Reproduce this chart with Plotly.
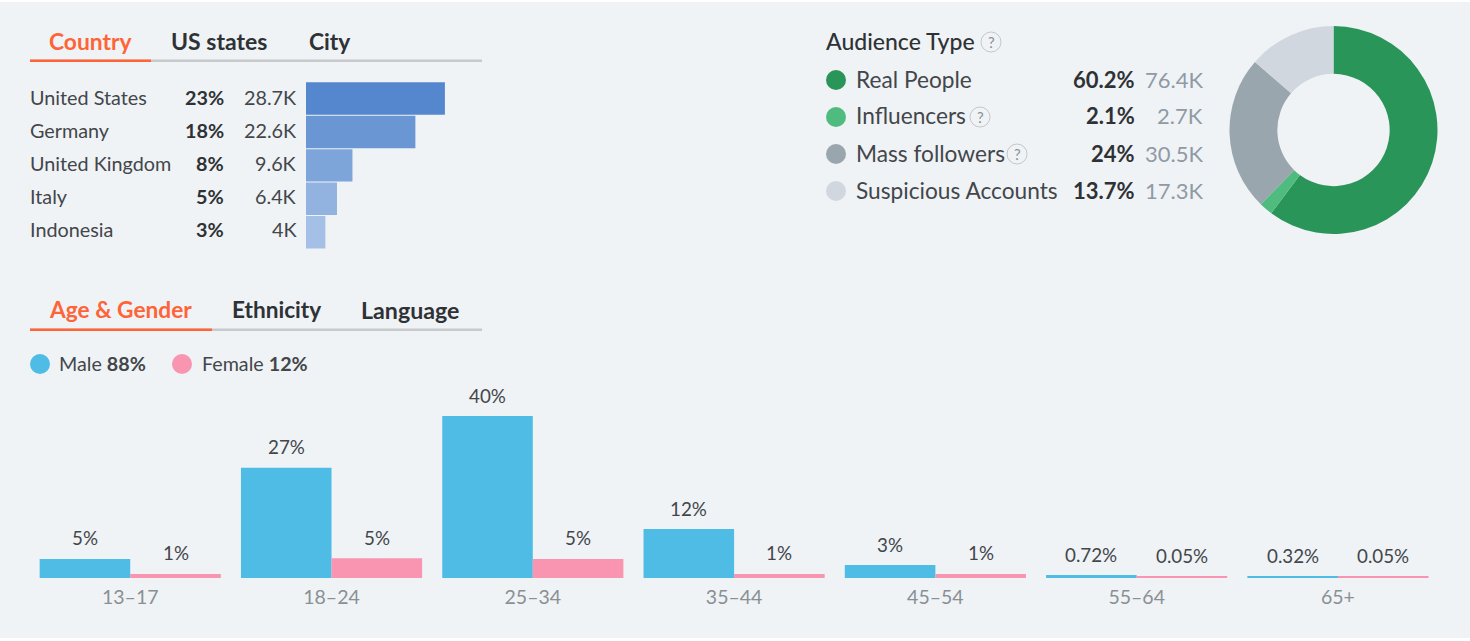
import plotly.graph_objects as go

# ---------- data ----------
COUNTRIES = ["United States", "Germany", "United Kingdom", "Italy", "Indonesia"]
COUNTRY_PCT = ["23%", "18%", "8%", "5%", "3%"]
COUNTRY_LABEL = ["28.7K", "22.6K", "9.6K", "6.4K", "4K"]
COUNTRY_K = [28.7, 22.6, 9.6, 6.4, 4.0]
COUNTRY_COLORS = ["#5587cf", "#6a97d4", "#7ea5da", "#92b3e0", "#a5c0e6"]

AUD_NAMES = ["Real People", "Influencers", "Mass followers", "Suspicious Accounts"]
AUD_PCT = ["60.2%", "2.1%", "24%", "13.7%"]
AUD_LABEL = ["76.4K", "2.7K", "30.5K", "17.3K"]
AUD_K = [76.4, 2.7, 30.5, 17.3]
AUD_COLORS = ["#2a9558", "#4fbb7f", "#9aa6ad", "#d0d7de"]

AGES = ["13–17", "18–24", "25–34", "35–44", "45–54", "55–64", "65+"]
MALE = [4.7, 27.2, 40, 12.1, 3.2, 0.72, 0.32]
FEMALE = [1, 4.9, 4.7, 1, 1, 0.45, 0.45]
MALE_LABEL = ["5%", "27%", "40%", "12%", "3%", "0.72%", "0.32%"]
FEMALE_LABEL = ["1%", "5%", "5%", "1%", "1%", "0.05%", "0.05%"]

BG = "#eff3f6"
INK = "#43464a"
DARK = "#2f3235"
ORANGE = "#ff6436"
FONT = "Lato"
W, H = 1470, 641


def px(x):
    return x / W


def py(y):
    return 1 - y / H


fig = go.Figure()

fig.add_trace(go.Bar(x=AGES, y=MALE, name="Male", marker=dict(color="#4fbce6", line_width=0),
                     xaxis="x", yaxis="y", hoverinfo="skip"))
fig.add_trace(go.Bar(x=AGES, y=FEMALE, name="Female", marker=dict(color="#f995b0", line_width=0),
                     xaxis="x", yaxis="y", hoverinfo="skip"))
fig.add_trace(go.Bar(y=COUNTRIES, x=COUNTRY_K, orientation="h", width=0.97,
                     marker=dict(color=COUNTRY_COLORS, line_width=0),
                     xaxis="x2", yaxis="y2", hoverinfo="skip"))
fig.add_trace(go.Pie(labels=AUD_NAMES, values=AUD_K, hole=0.54, sort=False, direction="clockwise",
                     rotation=0, textinfo="none", hoverinfo="skip",
                     marker=dict(colors=AUD_COLORS, line_width=0),
                     domain=dict(x=[px(1229.5), px(1437.5)], y=[py(234), py(26)])))

ann = []
shapes = []


def text(x, y, s, size=20, color=INK, anchor="left", weight=None):
    f = dict(family=FONT, size=size, color=color)
    if weight:
        f["weight"] = weight
    ann.append(dict(x=px(x), y=py(y), xref="paper", yref="paper", text=s, showarrow=False,
                    xanchor=anchor, yanchor="middle", font=f, borderpad=0, borderwidth=0))


def dot(cx, cy, r, fill, line=None):
    shapes.append(dict(type="circle", xref="paper", yref="paper", x0=px(cx - r), x1=px(cx + r),
                       y0=py(cy + r), y1=py(cy - r), fillcolor=fill,
                       line=dict(width=1 if line else 0, color=line or fill), layer="above"))


def rect(x0, y0, x1, y1, fill, layer="above"):
    shapes.append(dict(type="rect", xref="paper", yref="paper", x0=px(x0), x1=px(x1),
                       y0=py(y1), y1=py(y0), fillcolor=fill, line_width=0, layer=layer))


def helpmark(cx, cy):
    dot(cx, cy, 10, BG, "#c4c8cc")
    text(cx, cy, "?", size=15, color="#8a8f94", anchor="center")


# panel background
rect(0, 2, W, 638, BG, layer="below")

# top tabs
rect(30, 59.5, 482, 62, "#c8c9cb")
rect(30, 59.5, 151, 62, ORANGE)
text(49, 41, "<b>Country</b>", size=22.8, color=ORANGE)
text(171, 41, "<b>US states</b>", size=23, color=DARK)
text(309, 41, "<b>City</b>", size=22.8, color=DARK)

# country rows
for cy, name, pct, lab in zip([97, 130, 163, 196, 229], COUNTRIES, COUNTRY_PCT, COUNTRY_LABEL):
    text(29.5, cy, name, size=19.8)
    text(224, cy, "<b>%s</b>" % pct, size=19.8, color=DARK, anchor="right")
    text(296.5, cy, lab, size=19.8, anchor="right")

# audience
text(826, 41, "Audience Type", size=23, color=DARK, weight=500)
helpmark(991, 42)
for cy, name, pct, lab, col in zip([80, 117, 154, 191], AUD_NAMES, AUD_PCT, AUD_LABEL, AUD_COLORS):
    dot(836, cy, 10, col)
    text(856, cy - 1, name, size=22.7)
    text(1135, cy - 1, "<b>%s</b>" % pct, size=22, color=DARK, anchor="right")
    text(1202.5, cy - 1, lab, size=22, color="#8f9aa5", anchor="right")
helpmark(980, 117)
helpmark(1017, 154)

# lower tabs
rect(30, 328.5, 482, 331, "#c8c9cb")
rect(30, 328.5, 212, 331, ORANGE)
text(49, 310, "<b>Age &amp; Gender</b>", size=22.7, color=ORANGE)
text(232, 310, "<b>Ethnicity</b>", size=22.6, color=DARK)
text(361, 310, "<b>Language</b>", size=23.2, color=DARK)

# gender legend
dot(40, 364, 10, "#4fbce6")
text(59, 363, "Male <b>88%</b>", size=19.7)
dot(182, 364, 10, "#f995b0")
text(202, 363, "Female <b>12%</b>", size=19.7)

# bar labels
for i, (m, f, ml, fl) in enumerate(zip(MALE, FEMALE, MALE_LABEL, FEMALE_LABEL)):
    for off, v, lab in ((-0.225, m, ml), (0.225, f, fl)):
        ann.append(dict(x=i + off, y=v, xref="x", yref="y", text=lab, showarrow=False, yanchor="middle",
                        yshift=21, font=dict(family=FONT, size=18.8, color=INK)))

fig.update_layout(
    width=W, height=H, autosize=False, showlegend=False,
    margin=dict(l=0, r=0, t=0, b=0, pad=0),
    paper_bgcolor="#ffffff", plot_bgcolor="rgba(0,0,0,0)",
    bargap=0.1, bargroupgap=0, barmode="group",
    font=dict(family=FONT, color=INK),
    annotations=ann, shapes=shapes,
    xaxis=dict(domain=[px(29.6), px(1438.6)], range=[-0.5, 6.5], type="category", showgrid=False, zeroline=False,
               showline=False, ticks="", ticklabelstandoff=5,
               tickfont=dict(family=FONT, size=19.5, color="#8a8f94"), fixedrange=True),
    yaxis=dict(domain=[py(578), py(380)], range=[0, 48.9], showgrid=False, zeroline=False,
               showticklabels=False, fixedrange=True),
    xaxis2=dict(domain=[px(306), px(451.2)], range=[0, 30], anchor="y2", visible=False, fixedrange=True),
    yaxis2=dict(domain=[py(249), py(81.8)], range=[4.5, -0.5], type="category", anchor="x2", visible=False,
                fixedrange=True),
)

fig.write_html("out.html", config={"displayModeBar": False},
               post_script="document.body.style.margin='0';document.body.style.background='#ffffff';")
